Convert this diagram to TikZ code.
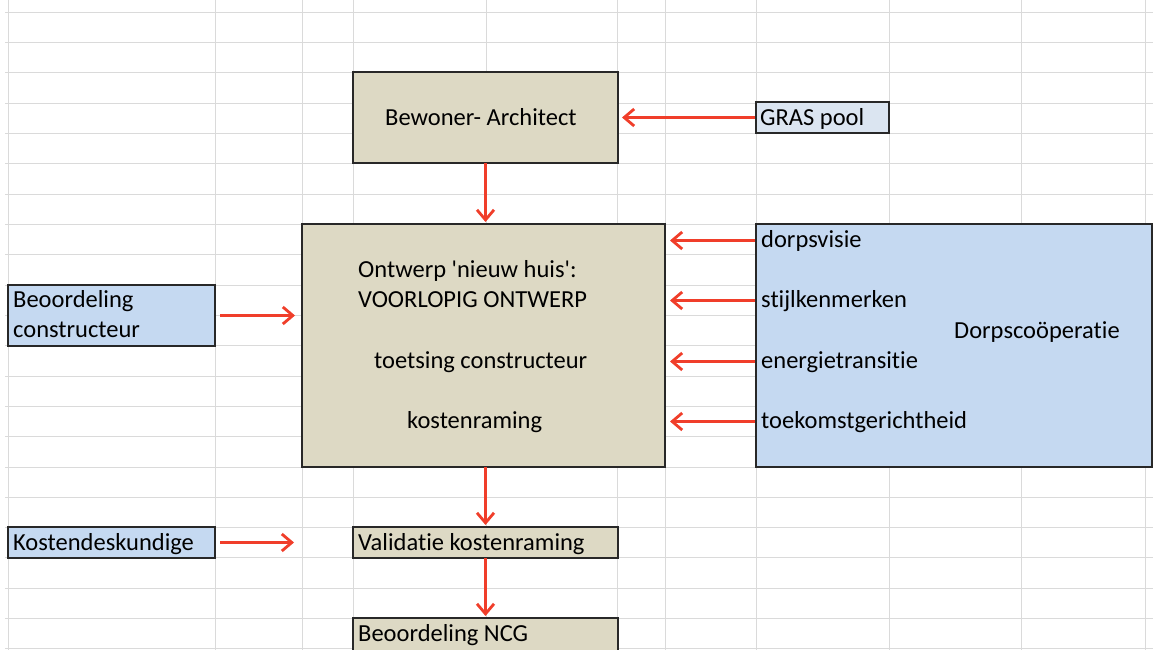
\documentclass[tikz,border=0pt]{standalone}
\usepackage{fontspec}
\setmainfont[Ligatures={NoCommon}]{Carlito}
\usetikzlibrary{arrows.meta}

\definecolor{gridgray}{RGB}{218,218,218}
\definecolor{tanfill}{RGB}{221,217,196}
\definecolor{bluefill}{RGB}{197,217,241}
\definecolor{lightblue}{RGB}{219,229,241}
\definecolor{boxline}{RGB}{40,40,40}
\definecolor{flowred}{RGB}{240,62,42}

\begin{document}
\begin{tikzpicture}[
    x=1pt, y=-1pt,
    font=\fontsize{24.5}{29}\selectfont,
    grid line/.style={draw=gridgray, line width=0.9pt},
    tan box/.style={draw=boxline, fill=tanfill, line width=1.2pt, inner sep=0, outer sep=0, anchor=north west},
    blue box/.style={tan box, fill=bluefill},
    cell text/.style={anchor=west, inner sep=0, yshift=-5pt, text height=.75em, text depth=.25em},
    flow/.style={draw=flowred, line width=2.2pt, -{Straight Barb[length=10pt,width=17pt,line width=2.8pt]}}]

  \clip (0,0) rectangle (1153,650);
  \fill[white] (0,0) rectangle (1153,650);

  % spreadsheet cells
  \foreach \x in {8,215,302,353,486,617,665,756,889,1021,1145}
    \draw[grid line] (\x,0) -- (\x,650);
  \foreach \k in {0,...,21}
    \draw[grid line] (5,{12+30.33*\k}) -- (1153,{12+30.33*\k});

  \node[tan box, minimum width=265pt, minimum height=91pt] (bewoner) at (353,72) {};
  \node[blue box, fill=lightblue, minimum width=133pt, minimum height=31pt] (gras) at (756,102) {};
  \node[tan box, minimum width=363pt, minimum height=243pt] (ontwerp) at (302,224) {};
  \node[blue box, minimum width=396pt, minimum height=243pt] (dorp) at (756,224) {};
  \node[blue box, minimum width=207pt, minimum height=61pt] (beoordeling) at (8,285) {};
  \node[blue box, minimum width=207pt, minimum height=31pt] (kosten) at (8,527) {};
  \node[tan box, minimum width=265pt, minimum height=31pt] (validatie) at (353,527) {};
  \node[tan box, minimum width=265pt, minimum height=45pt] (ncg) at (353,618) {};

  \node[cell text] (bewonerText) at (385,118) {Bewoner- Architect};
  \node[cell text] (grasText) at (760,118) {GRAS pool};
  \node[cell text] (ontwerpText) at (358,270) {Ontwerp \textquotesingle nieuw huis\textquotesingle:};
  \node[cell text] (voorlopig) at (358,300) {VOORLOPIG ONTWERP};
  \node[cell text] (toetsing) at (374,361) {toetsing constructeur};
  \node[cell text] (raming) at (407,421) {kostenraming};
  \node[cell text] (dorpsvisie) at (761,240) {dorpsvisie};
  \node[cell text] (stijl) at (761,300) {stijlkenmerken};
  \node[cell text] (energie) at (761,361) {energietransitie};
  \node[cell text] (toekomst) at (761,421) {toekomstgerichtheid};
  \node[cell text] (dorpText) at (954,331) {Dorpscoöperatie};
  \node[cell text] (beoordText) at (13,300) {Beoordeling};
  \node[cell text] (constrText) at (13,330) {constructeur};
  \node[cell text] (kostenText) at (13,543) {Kostendeskundige};
  \node[cell text] (validatieText) at (358,543) {Validatie kostenraming};
  \node[cell text] (ncgText) at (358,634) {Beoordeling NCG};

  \draw[flow, shorten <=1pt, shorten >=4pt] (gras) -- (bewoner);
  \draw[flow, shorten >=2pt] (bewoner.south) -- (bewoner.south |- ontwerp.north);
  \draw[flow, shorten >=2pt] (ontwerp.south -| validatie.north) -- (validatie.north);
  \draw[flow, shorten >=2pt] (validatie) -- (ncg);
  \draw[flow, shorten <=5pt, shorten >=7pt] (beoordeling) -- (beoordeling -| ontwerp.west);
  \draw[flow, shorten <=5pt, shorten >=8pt] (kosten) -- (kosten -| ontwerp.west);
  \draw[flow, shorten <=6pt, shorten >=5pt] ([yshift=4.5pt]dorpsvisie.west) -- ([yshift=4.5pt]dorpsvisie.west -| ontwerp.east);
  \draw[flow, shorten <=6pt, shorten >=5pt] ([yshift=4.5pt]stijl.west) -- ([yshift=4.5pt]stijl.west -| ontwerp.east);
  \draw[flow, shorten <=6pt, shorten >=5pt] ([yshift=4.5pt]energie.west) -- ([yshift=4.5pt]energie.west -| ontwerp.east);
  \draw[flow, shorten <=6pt, shorten >=5pt] ([yshift=4.5pt]toekomst.west) -- ([yshift=4.5pt]toekomst.west -| ontwerp.east);

\end{tikzpicture}
\end{document}
